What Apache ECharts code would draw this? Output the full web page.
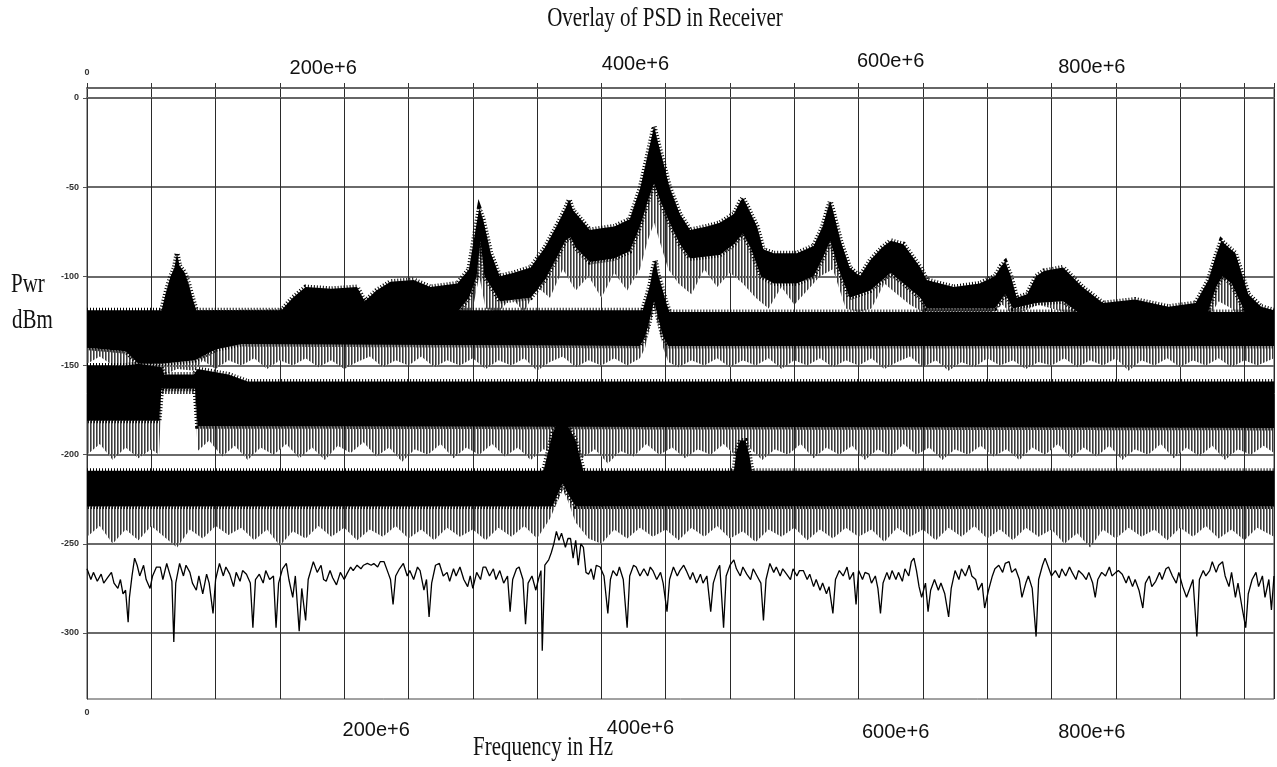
<!DOCTYPE html>
<html>
<head>
<meta charset="utf-8">
<title>Overlay of PSD in Receiver</title>
<script src="https://cdn.jsdelivr.net/npm/echarts@6/dist/echarts.min.js"></script>
<style>
  html, body { margin: 0; padding: 0; background: #fff; }
  #main { width: 1277px; height: 767px; }
</style>
</head>
<body>
<div id="main"></div>
<script>
// frequencies in MHz (axis labels print them as "e+6"), power in dBm

var xLabelValues = [0, 200, 400, 600, 800];
var xLabelText = ['0', '200e+6', '400e+6', '600e+6', '800e+6'];
var yTicks = [0, -50, -100, -150, -200, -250, -300];

// trace 1: wide-band spectrum with the big peaks (upper edge / lower edge / grey spike tips)
var t1Top = [[0,-121],[150,-120],[160,-112],[170,-106],[190,-107],[210,-106],[216,-114],[225,-108],[236,-103],[254,-102],[267,-106],[288,-104],[297,-96],[303,-70],[305,-62],[308,-68],[314,-87],[321,-100],[332,-98],[345,-95],[356,-84],[365,-72],[372,-62],[375,-57],[378,-63],[384,-68],[391,-74],[400,-73],[410,-72],[422,-68],[430,-51],[435,-35],[439,-22],[441,-16],[443,-22],[447,-33],[453,-50],[461,-65],[469,-74],[482,-72],[492,-70],[503,-65],[508,-58],[510,-56],[513,-60],[521,-72],[526,-85],[534,-87],[552,-87],[565,-83],[572,-72],[576,-62],[578,-58],[580,-63],[586,-80],[593,-95],[601,-100],[609,-91],[618,-84],[625,-80],[635,-82],[648,-95],[653,-102],[674,-106],[694,-104],[706,-100],[711,-94],[714,-92],[718,-99],[723,-112],[731,-110],[738,-100],[744,-97],[759,-95],[774,-106],[790,-115],[815,-113],[841,-117],[862,-115],[872,-102],[878,-88],[882,-80],[888,-84],[893,-87],[903,-110],[913,-117],[923,-119]];
var t1Bot = [[0,-136],[150,-136],[160,-128],[170,-122],[210,-122],[216,-128],[236,-120],[288,-120],[297,-112],[303,-100],[306,-80],[309,-100],[316,-108],[321,-114],[345,-112],[356,-102],[365,-90],[372,-80],[376,-78],[380,-84],[391,-92],[410,-90],[422,-86],[430,-72],[436,-58],[441,-48],[446,-58],[453,-70],[461,-82],[469,-90],[492,-88],[503,-82],[510,-76],[516,-84],[524,-100],[534,-104],[552,-104],[565,-100],[572,-90],[578,-80],[584,-95],[593,-112],[609,-108],[625,-98],[648,-112],[653,-118],[706,-118],[714,-110],[720,-118],[738,-115],[759,-114],[774,-122],[870,-124],[878,-106],[883,-100],[890,-104],[903,-124],[923,-136]];
var t1Fringe = [[0,-140],[290,-140],[300,-118],[305,-100],[310,-118],[320,-120],[330,-112],[340,-120],[350,-106],[360,-112],[370,-96],[380,-108],[390,-100],[400,-112],[410,-98],[420,-108],[430,-96],[436,-80],[441,-70],[446,-82],[452,-96],[460,-104],[470,-110],[480,-96],[490,-106],[500,-98],[510,-104],[520,-112],[530,-118],[540,-106],[550,-116],[560,-108],[570,-100],[580,-96],[590,-118],[600,-120],[610,-118],[620,-104],[630,-110],[640,-116],[650,-120],[700,-122],[712,-116],[720,-122],[740,-116],[760,-120],[870,-126],[880,-114],[890,-118],[900,-126],[923,-140]];

// trace 2: floor near -125 with peaks at 70 and 441 MHz
var t2Top = [[0,-119],[58,-119],[61,-110],[65,-100],[68,-95],[70,-87],[72,-94],[76,-98],[79,-104],[82,-112],[85,-119],[432,-119],[435,-112],[438,-104],[440,-96],[442,-91],[444,-99],[447,-106],[450,-114],[453,-120],[923,-120]];
var t2Bot = [[0,-140],[30,-142],[40,-149],[58,-149],[84,-147],[100,-141],[120,-138],[430,-139],[434,-134],[437,-126],[441,-114],[445,-126],[448,-134],[452,-139],[923,-139]];
var t2Fringe = [[0,-149],[10,-145],[20,-150],[30,-152],[40,-156],[50,-155],[58,-156],[70,-152],[84,-153],[90,-147],[100,-152],[110,-147],[120,-150],[130,-146],[140,-152],[150,-147],[160,-150],[170,-146],[180,-151],[190,-147],[200,-152],[210,-148],[220,-145],[230,-151],[240,-147],[250,-150],[260,-145],[270,-151],[280,-147],[290,-150],[300,-146],[310,-152],[320,-147],[330,-150],[340,-146],[350,-153],[360,-148],[370,-145],[380,-151],[390,-147],[400,-150],[410,-146],[420,-150],[430,-146],[434,-140],[437,-130],[441,-117],[445,-130],[448,-140],[452,-148],[460,-151],[470,-147],[480,-150],[490,-146],[500,-151],[510,-147],[520,-150],[530,-146],[540,-152],[550,-147],[560,-150],[570,-146],[580,-151],[590,-147],[600,-150],[610,-146],[620,-152],[630,-148],[640,-145],[650,-151],[660,-147],[670,-153],[680,-148],[690,-151],[700,-146],[710,-150],[720,-147],[730,-152],[740,-148],[750,-150],[760,-146],[770,-151],[780,-147],[790,-150],[800,-146],[810,-153],[820,-147],[830,-150],[840,-146],[850,-151],[860,-147],[870,-150],[880,-146],[890,-151],[900,-147],[910,-150],[923,-146]];

// trace 3: floor near -170, notch at 58-84 MHz
var t3Top = [[0,-150],[30,-150],[40,-149],[58,-151],[60,-155],[83,-155],[86,-152],[110,-155],[125,-159],[923,-159]];
var t3Bot = [[0,-181],[56,-181],[58,-163],[84,-163],[86,-184],[923,-185]];
var t3Fringe = [[0,-200],[10,-194],[20,-203],[30,-196],[40,-202],[50,-197],[56,-200],[58,-166],[84,-166],[86,-198],[95,-192],[105,-201],[115,-195],[125,-203],[135,-196],[145,-200],[155,-194],[165,-202],[175,-196],[185,-203],[195,-195],[205,-199],[215,-193],[225,-201],[235,-196],[245,-204],[255,-197],[265,-200],[275,-194],[285,-202],[295,-196],[305,-200],[315,-194],[325,-201],[335,-196],[345,-203],[355,-197],[365,-200],[375,-194],[385,-202],[395,-197],[405,-205],[415,-198],[425,-201],[435,-194],[445,-200],[455,-196],[465,-202],[475,-197],[485,-200],[495,-194],[505,-201],[515,-196],[525,-203],[535,-197],[545,-200],[555,-194],[565,-202],[575,-196],[585,-200],[595,-195],[605,-203],[615,-197],[625,-201],[635,-194],[645,-200],[655,-196],[665,-203],[675,-197],[685,-200],[695,-195],[705,-201],[715,-197],[725,-203],[735,-196],[745,-200],[755,-194],[765,-202],[775,-196],[785,-201],[795,-195],[805,-203],[815,-197],[825,-200],[835,-194],[845,-202],[855,-196],[865,-201],[875,-195],[885,-203],[895,-197],[905,-200],[915,-195],[923,-199]];

// trace 4: floor near -220, peaks at 370 and 510 MHz
var t4Top = [[0,-209],[355,-209],[358,-200],[362,-188],[366,-182],[370,-180],[374,-184],[380,-192],[386,-209],[503,-209],[505,-198],[508,-192],[512,-192],[515,-200],[517,-209],[923,-209]];
var t4Bot = [[0,-229],[362,-229],[366,-222],[370,-216],[374,-222],[380,-229],[923,-229]];
var t4Fringe = [[0,-246],[10,-240],[20,-250],[30,-242],[40,-248],[50,-240],[60,-246],[70,-252],[80,-242],[90,-247],[100,-240],[110,-245],[120,-241],[130,-248],[140,-242],[150,-251],[160,-243],[170,-247],[180,-240],[190,-246],[200,-241],[210,-248],[220,-242],[230,-246],[240,-240],[250,-247],[260,-242],[270,-248],[280,-241],[290,-246],[300,-242],[310,-248],[320,-241],[330,-246],[340,-240],[350,-247],[360,-236],[366,-226],[370,-220],[374,-226],[380,-238],[390,-247],[400,-250],[410,-242],[420,-247],[430,-241],[440,-246],[450,-242],[460,-248],[470,-241],[480,-246],[490,-240],[500,-247],[510,-243],[520,-249],[530,-242],[540,-246],[550,-241],[560,-248],[570,-242],[580,-247],[590,-241],[600,-246],[610,-242],[620,-249],[630,-241],[640,-246],[650,-242],[660,-248],[670,-241],[680,-246],[690,-240],[700,-247],[710,-242],[720,-248],[730,-241],[740,-246],[750,-242],[760,-250],[770,-244],[780,-252],[790,-242],[800,-247],[810,-241],[820,-246],[830,-242],[840,-248],[850,-241],[860,-246],[870,-240],[880,-247],[890,-242],[900,-248],[910,-241],[923,-246]];

// trace 5: the single thin line near -268
var t5 = [[0,-264],[3,-270],[5,-266],[8,-271],[11,-267],[13,-272],[16,-269],[19,-266],[21,-272],[24,-275],[26,-270],[28,-278],[30,-276],[32,-294],[33,-280],[35,-268],[37,-258],[39,-262],[41,-268],[44,-262],[46,-270],[49,-275],[51,-268],[54,-263],[57,-263],[59,-270],[62,-261],[64,-266],[66,-271],[67.5,-305],[69,-272],[72,-261],[75,-268],[77,-262],[80,-266],[82,-272],[85,-276],[87,-268],[90,-278],[93,-267],[95,-272],[98,-289],[100,-270],[103,-261],[106,-268],[108,-263],[111,-267],[114,-274],[116,-266],[119,-271],[121,-265],[124,-267],[127,-272],[129,-297],[131,-270],[134,-267],[137,-272],[139,-265],[142,-270],[145,-268],[147,-297],[149,-272],[152,-264],[155,-261],[157,-270],[160,-280],[162,-268],[165,-299],[167,-275],[170,-293],[172,-270],[176,-260],[179,-266],[182,-262],[184,-270],[186,-271],[189,-265],[191,-269],[194,-273],[197,-266],[200,-270],[202,-267],[205,-263],[207,-265],[210,-262],[213,-264],[215,-262],[218,-261],[221,-262],[223,-261],[226,-263],[228,-260],[231,-260],[234,-266],[236,-270],[238,-284],[240,-268],[243,-264],[246,-261],[249,-268],[251,-265],[254,-270],[257,-263],[259,-265],[262,-276],[264,-270],[266,-291],[268,-272],[271,-262],[274,-261],[277,-268],[280,-266],[282,-271],[285,-264],[287,-268],[290,-263],[293,-270],[296,-274],[298,-268],[300,-275],[303,-266],[306,-270],[308,-263],[310,-263],[313,-268],[316,-264],[318,-270],[321,-265],[324,-272],[327,-268],[329,-288],[331,-270],[334,-264],[336,-263],[339,-270],[341,-295],[343,-272],[346,-268],[349,-276],[351,-270],[353,-265],[354,-310],[356,-262],[359,-259],[361,-255],[363,-250],[365,-243],[367,-248],[369,-244],[370,-243],[372,-252],[374,-247],[376,-247],[378,-258],[380,-248],[382,-262],[384,-250],[386,-252],[388,-266],[390,-267],[392,-264],[394,-270],[396,-262],[399,-263],[402,-268],[405,-289],[407,-270],[409,-265],[412,-268],[414,-263],[417,-270],[420,-297],[422,-268],[425,-262],[427,-263],[430,-268],[433,-264],[436,-268],[438,-263],[440,-265],[443,-270],[446,-266],[448,-272],[451,-288],[453,-270],[456,-263],[459,-268],[461,-265],[464,-262],[466,-265],[469,-270],[471,-266],[474,-272],[477,-267],[479,-272],[482,-268],[485,-288],[487,-272],[490,-265],[492,-262],[495,-297],[497,-268],[500,-262],[503,-259],[505,-264],[508,-268],[510,-263],[513,-267],[516,-270],[518,-264],[521,-268],[524,-272],[526,-293],[528,-270],[531,-261],[534,-266],[536,-263],[539,-268],[541,-264],[544,-267],[547,-270],[549,-264],[552,-268],[554,-265],[557,-265],[560,-270],[562,-267],[565,-274],[567,-270],[570,-276],[572,-272],[575,-278],[577,-274],[580,-289],[582,-270],[585,-265],[588,-268],[591,-263],[593,-270],[596,-266],[598,-284],[600,-265],[603,-270],[605,-266],[608,-267],[610,-272],[613,-268],[615,-275],[617,-289],[619,-272],[622,-266],[624,-270],[626,-265],[629,-270],[631,-266],[634,-271],[636,-264],[639,-268],[641,-260],[643,-258],[645,-265],[647,-274],[649,-280],[652,-272],[654,-288],[656,-276],[659,-270],[662,-276],[664,-272],[667,-278],[670,-291],[672,-275],[675,-265],[678,-270],[680,-264],[683,-268],[686,-262],[688,-268],[691,-270],[693,-276],[696,-272],[698,-286],[701,-276],[704,-268],[706,-264],[709,-262],[712,-266],[714,-261],[717,-260],[719,-266],[722,-264],[725,-270],[727,-280],[730,-272],[732,-268],[735,-275],[738,-302],[740,-270],[743,-262],[745,-258],[748,-264],[750,-268],[753,-265],[756,-269],[758,-264],[761,-268],[764,-263],[766,-266],[769,-270],[771,-265],[774,-267],[777,-270],[779,-266],[782,-272],[784,-280],[786,-270],[789,-266],[792,-268],[795,-263],[797,-268],[800,-266],[802,-265],[805,-267],[808,-272],[810,-268],[813,-274],[815,-270],[818,-276],[821,-286],[823,-272],[826,-268],[828,-274],[831,-271],[834,-266],[836,-270],[839,-264],[841,-263],[844,-268],[847,-272],[849,-266],[852,-274],[855,-280],[857,-276],[860,-270],[863,-302],[865,-270],[868,-265],[870,-268],[873,-265],[875,-260],[878,-266],[880,-262],[883,-260],[885,-268],[888,-274],[890,-266],[893,-280],[895,-272],[898,-285],[901,-297],[903,-278],[906,-270],[909,-266],[911,-274],[914,-268],[916,-280],[919,-270],[921,-287],[923,-268]];

var bandTops = [t1Top, t2Top, t3Top, t4Top];
var bandBots = [t1Bot, t2Bot, t3Bot, t4Bot];
var bandFringes = [t1Fringe, t2Fringe, t3Fringe, t4Fringe];

// hatching used for the spiky lower fringe of each trace: dark and grey hairlines
var hatch = document.createElement('canvas');
hatch.width = 3;
hatch.height = 4;
var hctx = hatch.getContext('2d');
hctx.fillStyle = '#3a3a3a';
hctx.fillRect(0, 0, 1, 4);
hctx.fillStyle = '#8c8c8c';
hctx.fillRect(1, 0, 1, 4);

function outline(upper, lower, api) {
    var pts = [];
    for (var i = 0; i < upper.length; i++) pts.push(api.coord(upper[i]));
    for (var j = lower.length - 1; j >= 0; j--) pts.push(api.coord(lower[j]));
    return pts;
}

function labelRich(shifts, vpad, bigSize, vside) {
    var rich = {};
    for (var i = 0; i < xLabelValues.length; i++) {
        var s = shifts[i];
        var pad = [0, s < 0 ? -2 * s : 0, 0, s > 0 ? 2 * s : 0];
        if (vside === 'bottom') pad[2] = vpad[i]; else pad[0] = vpad[i];
        rich['t' + i] = i === 0
            ? { fontSize: 9, fontWeight: 'bold', color: '#333', fontFamily: 'Liberation Sans', padding: pad }
            : { fontSize: bigSize, color: '#111', fontFamily: 'Liberation Sans', padding: pad };
    }
    return rich;
}

function xLabel(v) {
    var i = xLabelValues.indexOf(v);
    return i < 0 ? '' : '{t' + i + '|' + xLabelText[i] + '}';
}

var chart = echarts.init(document.getElementById('main'));

var option = {
    animation: false,
    backgroundColor: '#fff',
    grid: { left: 87, top: 88, width: 1189, height: 611, show: true, borderColor: '#444', borderWidth: 1 },
    graphic: [
        { type: 'text', x: 665, y: 19, scaleY: 1.3,
          style: { text: 'Overlay of PSD in Receiver', font: '21px "Liberation Serif"', fill: '#111', textAlign: 'center', textVerticalAlign: 'middle' } },
        { type: 'text', x: 11, y: 285, scaleY: 1.3,
          style: { text: 'Pwr', font: '21px "Liberation Serif"', fill: '#111', textAlign: 'left', textVerticalAlign: 'middle' } },
        { type: 'text', x: 12, y: 321, scaleY: 1.3,
          style: { text: 'dBm', font: '21px "Liberation Serif"', fill: '#111', textAlign: 'left', textVerticalAlign: 'middle' } },
        { type: 'text', x: 543, y: 748, scaleY: 1.3,
          style: { text: 'Frequency in Hz', font: '21px "Liberation Serif"', fill: '#111', textAlign: 'center', textVerticalAlign: 'middle' } }
    ],
    xAxis: [
        {
            type: 'value', position: 'bottom', min: 0, max: 923, interval: 50,
            axisLine: { show: true, lineStyle: { color: '#666', width: 2 } },
            axisTick: { show: true, length: 3, lineStyle: { color: '#333' } },
            splitLine: { show: true, lineStyle: { color: '#2a2a2a', width: 1 } },
            axisLabel: { margin: 9, formatter: xLabel, rich: labelRich([0, 32, 39, 37, -24], [0, 12, 10, 14, 14], 20, 'top') }
        },
        {
            type: 'value', position: 'top', min: 0, max: 923, interval: 50,
            axisLine: { show: true, lineStyle: { color: '#666', width: 2 } },
            axisTick: { show: true, length: 5, lineStyle: { color: '#333' } },
            splitLine: { show: false },
            axisLabel: { margin: 10, formatter: xLabel, rich: labelRich([0, -21, 34, 32, -24], [1, 0, 4, 7, 1], 20, 'bottom') }
        }
    ],
    yAxis: {
        type: 'value', min: -337, max: 5.6,
        axisLine: { show: true, lineStyle: { color: '#333', width: 1 } },
        axisTick: { show: true, length: 4, customValues: yTicks, lineStyle: { color: '#555' } },
        splitLine: { show: true, lineStyle: { color: '#6a6a6a', width: 2 } },
        axisLabel: { customValues: yTicks, margin: 8, fontSize: 9, fontWeight: 'bold', color: '#333', fontFamily: 'Liberation Sans' }
    },
    series: [
        {
            type: 'custom', name: 'fringe', z: 3, clip: true,
            data: bandFringes.map(function (f, i) { return [i]; }),
            renderItem: function (params, api) {
                var k = params.dataIndex;
                return { type: 'polygon', shape: { points: outline(bandBots[k], bandFringes[k], api) },
                         style: { fill: { image: hatch, repeat: 'repeat' }, stroke: null } };
            }
        },
        {
            type: 'custom', name: 'band', z: 4, clip: true,
            data: bandTops.map(function (f, i) { return [i]; }),
            renderItem: function (params, api) {
                var k = params.dataIndex;
                // dashed thick outline gives the hairy, spiky edge of the noise band
                return { type: 'polygon', shape: { points: outline(bandTops[k], bandBots[k], api) },
                         style: { fill: '#000', stroke: '#000', lineWidth: 5, lineDash: [1, 2] } };
            }
        },
        {
            type: 'line', name: 'trace5', z: 5, data: t5, showSymbol: false,
            lineStyle: { color: '#000', width: 1.3 }
        }
    ]
};

chart.setOption(option);
</script>
</body>
</html>
